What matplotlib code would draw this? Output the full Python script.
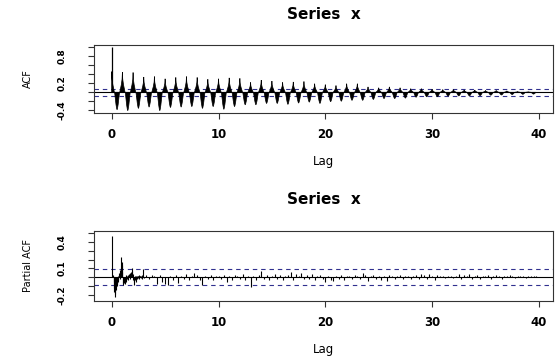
import numpy as np
import matplotlib
matplotlib.use("Agg")
import matplotlib.pyplot as plt

plt.rcParams["font.family"] = ["DejaVu Sans"]
plt.rcParams["font.weight"] = "bold"

# ---- ACF (lag in seasons): spike at lag 0, then one lobe pair per season
acf_lag0 = 1.0
acf_peak = [0.46, 0.45, 0.44, 0.34, 0.35, 0.30, 0.33, 0.35, 0.33, 0.29,
            0.30, 0.32, 0.31, 0.22, 0.27, 0.25, 0.22, 0.23, 0.24, 0.19,
            0.17, 0.15, 0.19, 0.19, 0.12, 0.10, 0.12, 0.10, 0.08, 0.08,
            0.07, 0.06, 0.06, 0.05, 0.05, 0.04, 0.04, 0.03, 0.015, 0.01]
acf_trough = [-0.39, -0.41, -0.36, -0.33, -0.41, -0.34, -0.33, -0.32, -0.36, -0.32,
              -0.38, -0.32, -0.28, -0.28, -0.25, -0.25, -0.27, -0.24, -0.22, -0.25,
              -0.21, -0.20, -0.18, -0.18, -0.16, -0.14, -0.14, -0.13, -0.11, -0.10,
              -0.10, -0.085, -0.08, -0.08, -0.075, -0.065, -0.06, -0.05, -0.045, -0.04]
acf_ci = 0.078

# ---- PACF: first three seasons at 1/24 lag steps, then sampled every 0.25
pacf_early = [0.47, 0.02, 0.03, -0.05, -0.12, -0.17, -0.23, -0.19, -0.14, -0.11,
              -0.08, -0.10, -0.05, 0.02, -0.03, 0.03, 0.05, -0.02, 0.08, 0.10,
              0.23, 0.14, 0.17, 0.06, -0.06, -0.09, -0.07, -0.04, -0.08, -0.05,
              0.03, -0.03, -0.05, 0.02, -0.02, 0.03, -0.03, 0.02, 0.04, -0.02,
              0.03, 0.05, 0.02, 0.06, 0.11, 0.07, 0.04, -0.03, -0.05, -0.09,
              -0.02, 0.02, -0.03, -0.05, 0.01, -0.02, 0.02, 0.01, -0.01, 0.02,
              -0.02, 0.03, 0.01, 0.02, -0.01, 0.02, 0.01, 0.03, -0.02, 0.02,
              0.09, -0.01]
pacf_late = [0.03, -0.02, 0.03, 0.02, -0.08, 0.03, -0.05, -0.08, -0.09, 0.02,
             -0.03, 0.03, -0.06, 0.02, -0.02, 0.04, -0.03, 0.02, 0.05, 0.03,
             -0.03, -0.09, 0.02, -0.02, 0.03, -0.03, 0.02, 0.01, -0.02, 0.03,
             -0.05, 0.02, -0.03, 0.03, 0.02, -0.02, 0.04, -0.03, 0.02, -0.115,
             0.02, -0.03, 0.03, 0.07, -0.02, 0.03, -0.03, 0.02, 0.04, -0.02,
             0.03, -0.03, 0.02, 0.03, 0.06, -0.03, 0.04, 0.02, 0.05, -0.02,
             0.03, -0.02, 0.04, -0.03, 0.02, 0.03, -0.02, -0.05, 0.02, -0.03,
             -0.04, 0.02, -0.02, 0.03, -0.03, 0.02, 0.01, -0.02, 0.03, 0.02,
             -0.02, 0.05, 0.03, -0.04, 0.02, 0.03, -0.02, 0.02, -0.03, 0.02,
             -0.04, 0.03, 0.02, -0.02, 0.01, 0.03, -0.02, 0.02, 0.01, -0.02,
             0.02, 0.03, -0.02, 0.04, 0.03, -0.02, 0.04, 0.02, -0.03, 0.03,
             0.02, 0.01, -0.01, 0.01, 0.01, -0.01, 0.02, 0.04, -0.02, 0.03,
             0.02, 0.04, -0.02, 0.02, 0.03, -0.02, 0.02, 0.01, 0.03, -0.02,
             0.02, 0.03, 0.01, -0.02, 0.02, 0.01, 0.03, 0.01, -0.01, 0.02,
             0.01, 0.02, -0.01, 0.02, 0.01, 0.02, 0.01]
pacf_ci = 0.09

xticks = [0, 10, 20, 30, 40]
acf_yticks = [-0.4, -0.2, 0.0, 0.2, 0.4, 0.6, 0.8, 1.0]
acf_ylabels = ["-0.4", "", "", "0.2", "", "", "0.8", ""]
pacf_yticks = [-0.2, -0.1, 0.0, 0.1, 0.2, 0.3, 0.4, 0.5]
pacf_ylabels = ["-0.2", "", "", "0.1", "", "", "0.4", ""]

# lobe outline (offset in lag, fraction of the lobe's extreme)
POS_DX = np.array([-0.25, -0.1, -0.03, 0.0, 0.03, 0.1, 0.25])
POS_FR = np.array([0.0, 0.38, 0.65, 1.0, 0.65, 0.38, 0.0])
NEG_DX = np.array([-0.23, -0.1, -0.04, 0.0, 0.04, 0.1, 0.23])
NEG_FR = np.array([0.0, 0.7, 0.92, 1.0, 0.92, 0.7, 0.0])

CI_COLOR = "#30308f"
BOX = "#333333"
W, H = 557.0, 356.0


def style(ax, yticks, ylabels, ylim, title, ylabel, ci):
    ax.axhline(0, color="black", lw=0.8, zorder=1)
    for c in (ci, -ci):
        ax.axhline(c, color=CI_COLOR, lw=0.8, ls=(0, (4, 3.5)), zorder=1)
    ax.set_xlim(-1.66, 41.35)
    ax.set_ylim(ylim)
    ax.set_xticks(xticks)
    ax.set_xticklabels([str(t) for t in xticks], fontsize=8.5)
    ax.set_yticks(yticks)
    ax.set_yticklabels(ylabels, fontsize=6.5, rotation=90, va="center")
    ax.tick_params(axis="x", length=4.5, width=0.8, color=BOX, pad=6.5)
    ax.tick_params(axis="y", length=4.5, width=0.8, color=BOX, pad=15)
    for s in ax.spines.values():
        s.set_color(BOX)
        s.set_linewidth(0.8)
    ax.set_title(title, fontsize=11, fontweight="bold", pad=19)
    ax.set_xlabel("Lag", fontsize=8.5)
    ax.xaxis.label.set_va("center")
    ax.set_ylabel(ylabel, fontsize=7)
    ax.yaxis.label.set_va("center")


fig = plt.figure(figsize=(W / 100, H / 100), dpi=100)
ax1 = fig.add_axes([94 / W, 1 - 112.5 / H, 459.3 / W, 67.5 / H])
ax2 = fig.add_axes([94 / W, 1 - 301 / H, 459.3 / W, 70.3 / H])

# ACF
ax1.vlines([0], 0, [acf_lag0], color="black", lw=0.9, zorder=3)
for k, (p, t) in enumerate(zip(acf_peak, acf_trough)):
    if k == 0:
        keep = POS_DX >= 0
        xs = np.concatenate([[0.0], k + POS_DX[keep]])
        ys = np.concatenate([[0.0], p * POS_FR[keep]])
        ys[1] = p
    else:
        xs = k + POS_DX
        ys = p * POS_FR
    ax1.fill(xs, ys, color="black", lw=0.5, zorder=2)
    ax1.fill(k + 0.5 + NEG_DX, t * NEG_FR, color="black", lw=0.5, zorder=2)
style(ax1, acf_yticks, acf_ylabels, (-0.449, 1.051), "Series  x", "ACF", acf_ci)

# PACF
lag_early = np.arange(1, len(pacf_early) + 1) / 24.0
lag_late = 3.25 + 0.25 * np.arange(len(pacf_late))
ax2.vlines(lag_early, 0, pacf_early, color="black", lw=0.8, zorder=2)
ax2.vlines(lag_late, 0, pacf_late, color="black", lw=0.8, zorder=2)
style(ax2, pacf_yticks, pacf_ylabels, (-0.27, 0.53), "Series  x", "Partial ACF", pacf_ci)

for ax, h in ((ax1, 67.5), (ax2, 70.3)):
    ax.xaxis.set_label_coords(0.5, -48.5 / h)
    ax.yaxis.set_label_coords(-66.0 / 459.3, 0.5)

fig.savefig("out.png", dpi=100)
